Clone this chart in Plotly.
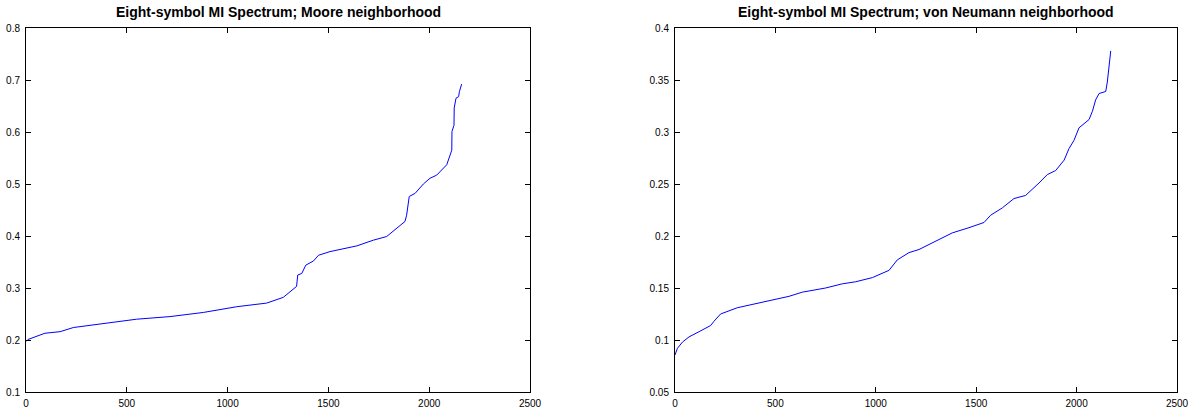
import plotly.graph_objects as go

# Moore neighborhood spectrum (sorted MI values vs. rank)
moore_rank = [0, 10, 94, 169, 235, 384, 549, 714, 880, 1045, 1194, 1276, 1326,
              1342, 1348, 1368, 1388, 1426, 1451, 1508, 1641, 1723, 1789, 1839,
              1880, 1888, 1901, 1930, 1971, 2004, 2037, 2087, 2103, 2112, 2113,
              2123, 2124, 2133, 2146, 2150, 2161]
moore_mi = [0.197, 0.201, 0.213, 0.216, 0.224, 0.232, 0.240, 0.245, 0.253, 0.264,
            0.271, 0.282, 0.297, 0.303, 0.325, 0.328, 0.344, 0.352, 0.363, 0.370,
            0.381, 0.392, 0.399, 0.415, 0.428, 0.440, 0.476, 0.482, 0.500, 0.511,
            0.517, 0.537, 0.556, 0.565, 0.601, 0.613, 0.646, 0.665, 0.668, 0.678,
            0.692]

# von Neumann neighborhood spectrum
vn_rank = [0, 12, 37, 70, 120, 178, 194, 227, 310, 402, 501, 568, 634, 750, 833,
           900, 983, 1066, 1107, 1165, 1215, 1298, 1381, 1464, 1539, 1572, 1630,
           1688, 1746, 1813, 1854, 1896, 1938, 1962, 1987, 2012, 2062, 2079, 2095,
           2112, 2145, 2153, 2162, 2170]
vn_mi = [0.0856, 0.092, 0.098, 0.103, 0.108, 0.114, 0.118, 0.125, 0.131, 0.135,
         0.139, 0.142, 0.146, 0.150, 0.154, 0.156, 0.160, 0.167, 0.177, 0.184,
         0.187, 0.195, 0.203, 0.208, 0.213, 0.220, 0.227, 0.236, 0.239, 0.251,
         0.259, 0.263, 0.273, 0.284, 0.292, 0.304, 0.312, 0.320, 0.331, 0.337,
         0.339, 0.348, 0.363, 0.378]

titles = ["Eight-symbol MI Spectrum; Moore neighborhood",
          "Eight-symbol MI Spectrum; von Neumann neighborhood"]

x_ticks = [0, 500, 1000, 1500, 2000, 2500]
moore_ticks = [0.1, 0.2, 0.3, 0.4, 0.5, 0.6, 0.7, 0.8]
moore_ticktext = ["0.1", "0.2", "0.3", "0.4", "0.5", "0.6", "0.7", "0.8"]
vn_ticks = [0.05, 0.1, 0.15, 0.2, 0.25, 0.3, 0.35, 0.4]
vn_ticktext = ["0.05", "0.1", "0.15", "0.2", "0.25", "0.3", "0.35", "0.4"]

W, H = 1195, 412
FONT = "Liberation Sans, Arial, sans-serif"

fig = go.Figure()
fig.add_trace(go.Scatter(x=moore_rank, y=moore_mi, mode="lines",
                         line=dict(color="#0000ff", width=1),
                         xaxis="x", yaxis="y", showlegend=False))
fig.add_trace(go.Scatter(x=vn_rank, y=vn_mi, mode="lines",
                         line=dict(color="#0000ff", width=1),
                         xaxis="x2", yaxis="y2", showlegend=False))

y_dom = [20 / H, 384 / H]
left_dom = [26 / W, 530 / W]
right_dom = [675 / W, 1177 / W]

axis_common = dict(showline=True, linecolor="#000000", linewidth=1, mirror="ticks",
                   ticks="inside", ticklen=5, tickcolor="#000000", showgrid=False,
                   zeroline=False, automargin=False,
                   tickfont=dict(family=FONT, size=10, color="#000000"))

fig.update_layout(
    width=W, height=H,
    margin=dict(l=0, r=0, t=0, b=0, autoexpand=False),
    paper_bgcolor="white", plot_bgcolor="white",
    xaxis=dict(domain=left_dom, anchor="y", range=[0, 2500], tickvals=x_ticks,
               ticklabelstandoff=2, **axis_common),
    yaxis=dict(domain=y_dom, anchor="x", range=[0.1, 0.8], tickvals=moore_ticks,
               ticktext=moore_ticktext, ticklabelstandoff=3, **axis_common),
    xaxis2=dict(domain=right_dom, anchor="y2", range=[0, 2500], tickvals=x_ticks,
                ticklabelstandoff=2, **axis_common),
    yaxis2=dict(domain=y_dom, anchor="x2", range=[0.05, 0.4], tickvals=vn_ticks,
                ticktext=vn_ticktext, ticklabelstandoff=3, **axis_common),
)

for dom, text in zip([left_dom, right_dom], titles):
    fig.add_annotation(x=(dom[0] + dom[1]) / 2, y=1 - 12 / H, xref="paper", yref="paper",
                       text="<b>" + text + "</b>", showarrow=False,
                       xanchor="center", yanchor="middle",
                       font=dict(family=FONT, size=14, color="#000000"))

fig.write_html("out.html")
